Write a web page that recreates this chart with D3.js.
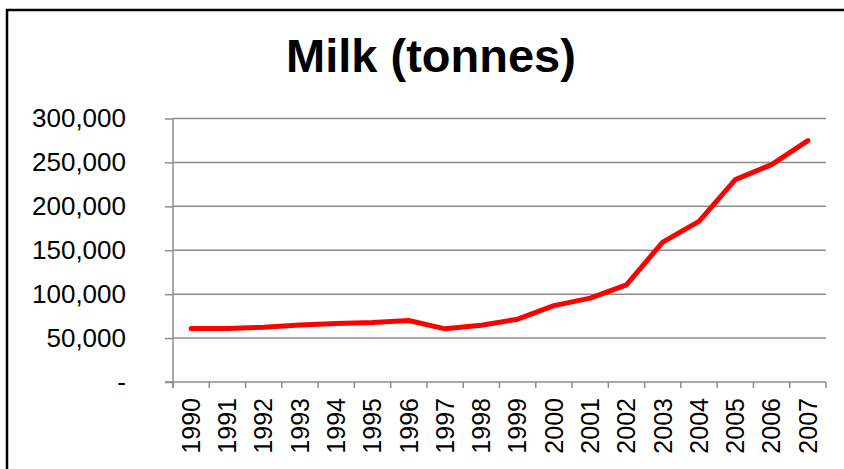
<!DOCTYPE html>
<html>
<head>
<meta charset="utf-8">
<script src="https://cdn.jsdelivr.net/npm/d3@7"></script>
<style>
  body { margin: 0; background: #fff; }
  svg { display: block; font-family: "Liberation Sans", Arial, sans-serif; }
</style>
</head>
<body>
<script>
// chart data
var years = ["1990", "1991", "1992", "1993", "1994", "1995", "1996", "1997", "1998",
             "1999", "2000", "2001", "2002", "2003", "2004", "2005", "2006", "2007"];
var milk = [61000, 61000, 62400, 65000, 66500, 67700, 70000, 60500, 64700,
            71500, 87000, 95500, 110600, 159300, 182900, 230400, 247500, 274900];
var yTicks = [0, 50000, 100000, 150000, 200000, 250000, 300000];

var width = 844, height = 469;
var plotLeft = 173, plotRight = 826, plotTop = 118.5, plotBottom = 382;

var svg = d3.select("body").append("svg")
    .attr("width", width)
    .attr("height", height);

// outer chart border (runs off the right and bottom)
svg.append("rect")
    .attr("x", 7).attr("y", 10)
    .attr("width", 860).attr("height", 480)
    .attr("fill", "none")
    .attr("stroke", "#000")
    .attr("stroke-width", 2.5);

// title
svg.append("text")
    .attr("x", 431).attr("y", 72)
    .attr("text-anchor", "middle")
    .style("font-size", "47px")
    .style("font-weight", "bold")
    .text("Milk (tonnes)");

var x = d3.scaleBand().domain(years).range([plotLeft, plotRight]);
var y = d3.scaleLinear().domain([0, 300000]).range([plotBottom, plotTop]);

// horizontal gridlines
svg.append("g").selectAll("line")
    .data(yTicks.filter(function(d) { return d > 0; }))
    .enter().append("line")
    .attr("x1", plotLeft).attr("x2", plotRight)
    .attr("y1", function(d) { return y(d); })
    .attr("y2", function(d) { return y(d); })
    .attr("stroke", "#8c8c8c")
    .attr("stroke-width", 1.5);

// y axis
var yAxis = d3.axisLeft(y)
    .tickValues(yTicks)
    .tickSize(8)
    .tickPadding(39)
    .tickFormat(function(d) { return d === 0 ? "-" : d3.format(",")(d); });
var gy = svg.append("g")
    .attr("transform", "translate(" + plotLeft + ",0)")
    .call(yAxis);
gy.select(".domain").remove();
gy.append("line")
    .attr("x1", 0).attr("x2", 0)
    .attr("y1", plotTop).attr("y2", plotBottom + 6)
    .attr("stroke", "#8c8c8c")
    .attr("stroke-width", 1.5);
gy.selectAll(".tick line").attr("stroke", "#8c8c8c").attr("stroke-width", 1.5);
gy.selectAll("text")
    .style("font-size", "26px")
    .attr("fill", "#000")
    .attr("font-family", "Liberation Sans, Arial, sans-serif");

// x axis
var gx = svg.append("g")
    .attr("transform", "translate(0," + plotBottom + ")");
gx.append("line")
    .attr("x1", plotLeft - 8).attr("x2", plotRight)
    .attr("y1", 0).attr("y2", 0)
    .attr("stroke", "#8c8c8c")
    .attr("stroke-width", 1.5);
// tick marks sit between categories
var boundaries = years.map(function(d) { return x(d); }).concat([x(years[years.length - 1]) + x.bandwidth()]);
gx.selectAll(".xtick")
    .data(boundaries)
    .enter().append("line")
    .attr("class", "xtick")
    .attr("x1", function(d) { return d; })
    .attr("x2", function(d) { return d; })
    .attr("y1", 0).attr("y2", 6)
    .attr("stroke", "#8c8c8c")
    .attr("stroke-width", 1.5);
gx.selectAll(".xlabel")
    .data(years)
    .enter().append("text")
    .attr("class", "xlabel")
    .attr("transform", function(d) {
        return "translate(" + (x(d) + x.bandwidth() / 2) + ",16) rotate(-90)";
    })
    .attr("text-anchor", "end")
    .attr("dy", "0.35em")
    .style("font-size", "25px")
    .text(function(d) { return d; });

// milk line
var line = d3.line()
    .x(function(d, i) { return x(years[i]) + x.bandwidth() / 2; })
    .y(function(d) { return y(d); });
svg.append("path")
    .datum(milk)
    .attr("d", line)
    .attr("fill", "none")
    .attr("stroke", "#ff0000")
    .attr("stroke-width", 5)
    .attr("stroke-linejoin", "round")
    .attr("stroke-linecap", "round");
</script>
</body>
</html>
